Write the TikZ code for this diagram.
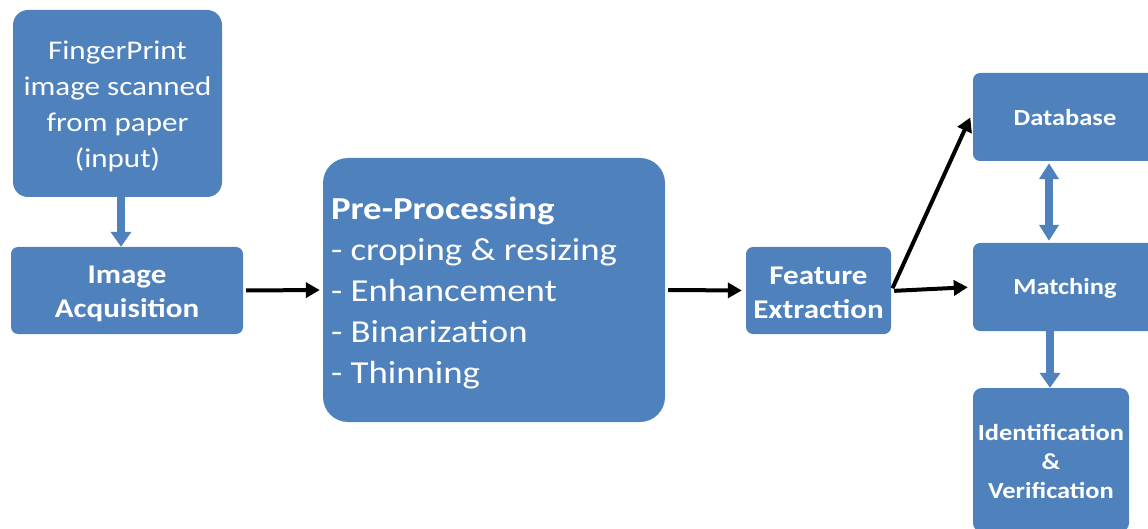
\documentclass[tikz,border=0pt]{standalone}
\usepackage{fontspec}
\setmainfont{Carlito}[FakeStretch=1.15]
\usetikzlibrary{arrows.meta}
\definecolor{boxblue}{RGB}{79,129,189}
\tikzset{
  block/.style={fill=boxblue, draw=none, inner sep=0pt},
  caption/.style={text=white, align=center, inner sep=0pt},
  blackarrow/.style={draw=black, line width=4pt,
    -{Triangle[length=14pt, width=15pt]}},
  bluearrow/.style={draw=boxblue, line width=8pt,
    -{Triangle[length=15pt, width=20pt]}},
  bluedouble/.style={draw=boxblue, line width=8pt,
    {Triangle[length=16pt, width=19pt]}-{Triangle[length=16pt, width=19pt]}}
}
\begin{document}
\begin{tikzpicture}[x=1pt, y=-1pt]
  \useasboundingbox (0,0) rectangle (1148,529);
  \clip (0,0) rectangle (1148,529);

  % boxes
  \node[block, rounded corners=15pt, minimum width=209pt, minimum height=187pt] (input) at (117.5,103.5) {};
  \node[block, rounded corners=7pt, minimum width=232pt, minimum height=87pt] (acq) at (127,290.5) {};
  \node[block, rounded corners=25pt, minimum width=342pt, minimum height=264pt] (pre) at (494,290) {};
  \node[block, rounded corners=7pt, minimum width=145pt, minimum height=87pt] (feat) at (818.5,290.5) {};
  \node[block, rounded corners=7pt, minimum width=184pt, minimum height=88pt] (db) at (1065,117) {};
  \node[block, rounded corners=7pt, minimum width=184pt, minimum height=88pt] (match) at (1065,287) {};
  \node[block, rounded corners=9pt, minimum width=156pt, minimum height=144pt] (ident) at (1051,460) {};

  % box texts
  \node[caption, font=\fontsize{27}{36}\selectfont] (inputtext) at ([yshift=-3pt]input.center)
        {FingerPrint\\image scanned\\from paper\\(input)};
  \node[caption, font=\fontsize{27}{34}\selectfont\bfseries] (acqtext) at ([yshift=-3pt]acq.center)
        {Image\\Acquisition};
  \node[caption, align=left, anchor=west, font=\fontsize{32}{41}\selectfont] (pretext)
        at ([xshift=8pt, yshift=-3pt]pre.west)
        {\textbf{Pre-Processing}\\- croping \& resizing\\- Enhancement\\- Binarization\\- Thinning};
  \node[caption, font=\fontsize{27}{34}\selectfont\bfseries] (feattext) at ([yshift=-2pt]feat.center)
        {Feature\\Extraction};
  \node[caption, font=\fontsize{23}{29}\selectfont\bfseries] (dbtext) at ([yshift=-1pt]db.center) {Database};
  \node[caption, font=\fontsize{23}{29}\selectfont\bfseries] (matchtext) at ([yshift=-1pt]match.center) {Matching};
  \node[caption, font=\fontsize{23}{29}\selectfont\bfseries] (identtext) at ([yshift=-1pt]ident.center)
        {Identification\\\&\\Verification};

  % connectors
  \draw[bluearrow] ([xshift=3.5pt]input.south) -- ([xshift=-6pt]acq.north);
  \draw[blackarrow, shorten <=3pt, shorten >=3pt] (acq.east) -- (pre.west);
  \draw[blackarrow, shorten <=3pt, shorten >=4pt] (pre.east) -- (feat.west);
  \draw[blackarrow, shorten <=3pt, shorten >=6pt]
        ([yshift=-0.5pt]feat.east) -- ([yshift=5pt]db.west);
  \draw[blackarrow, shorten <=3pt, shorten >=5pt]
        ([yshift=-0.5pt]feat.east) -- (match.west);
  \draw[bluedouble, shorten <=2pt, shorten >=2pt]
        ([xshift=-16pt]db.south) -- ([xshift=-16pt]match.north);
  \draw[bluearrow] ([xshift=-15pt]match.south) -- ([xshift=-1pt]ident.north);
\end{tikzpicture}
\end{document}
